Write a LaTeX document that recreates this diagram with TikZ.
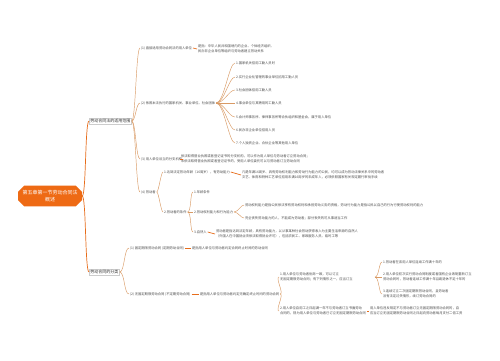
\documentclass[tikz,border=0pt]{standalone}
\usepackage{fontspec}
\setmainfont{Noto Sans CJK SC}
\usepackage{xcolor}
\definecolor{rootcol}{HTML}{EE6A14}
\definecolor{linecol}{HTML}{D99A64}
\usetikzlibrary{shapes.misc}

\begin{document}
\begin{tikzpicture}[x=1pt,y=-1pt,
  r/.style={chamfered rectangle, chamfered rectangle xsep=2.5pt, fill=rootcol, text=white, font=\fontsize{5}{6.6}\selectfont, align=center, minimum width=64pt, minimum height=19pt, inner sep=1pt},
  t/.style={draw=gray!40, fill=white, line width=0.3pt, font=\fontsize{4}{5}\selectfont, text=black!80, inner sep=1.2pt, anchor=west},
  l/.style={font=\fontsize{3.3}{4.6}\selectfont, text=black!70, inner sep=0.8pt, anchor=west, align=left},
  e/.style={draw=linecol, line width=0.45pt},
  ee/.style={draw=rootcol!85!brown, line width=0.7pt}
]
\path[use as bounding box, fill=white] (0,0) rectangle (500,360);

% ===== ROOT =====
\node[r] (root) at (50,196) {第五章第一节劳动合同法\\概述};

% ===== LEVEL 1 =====
\node[t] (L1a) at (89,121) {劳动合同法的适用范围};
\node[t] (L1b) at (89,272) {劳动合同的分类};
\draw[ee] (root.east) .. controls +(4,0) and +(-4,0) .. (L1a.west);
\draw[ee] (root.east) .. controls +(4,0) and +(-4,0) .. (L1b.west);

% ===== BRANCH A  (适用范围) =====
\node[l] (a1) at (140,48) {(1) 直接适用劳动合同法的用人单位};
\node[l] (a1c) at (197,49) {是指：中华人民共和国境内的企业、个体经济组织、\\民办非企业单位等组织与劳动者建立劳动关系};
\node[l] (a2) at (140,103) {(2) 依照本法执行的国家机关、事业单位、社会团体};
\node[l] (a3) at (140,159) {(3) 用人单位设立的分支机构};
\node[l] (a3c) at (180,159) {依法取得营业执照或者登记证书的分支机构，可以作为用人单位与劳动者订立劳动合同；\\未依法取得营业执照或者登记证书的，受用人单位委托可以与劳动者订立劳动合同};
\node[l] (a4) at (140,192) {(4) 劳动者};
\draw[e] (L1a.east) .. controls +(4,0) and +(-4,0) .. (a1.west);
\draw[e] (L1a.east) .. controls +(4,0) and +(-4,0) .. (a2.west);
\draw[e] (L1a.east) .. controls +(4,0) and +(-4,0) .. (a3.west);
\draw[e] (L1a.east) .. controls +(4,0) and +(-4,0) .. (a4.west);
\draw[ee] (a1.east) -- (a1c.west);
\draw[ee] (a3.east) -- (a3c.west);

% items of (2)
\node[l] (i1) at (235,63) {1.国家机关招用工勤人员时};
\node[l] (i2) at (235,77) {2.实行企业化管理的事业单位招用工勤人员};
\node[l] (i3) at (235,90) {3.社会团体招用工勤人员};
\node[l] (i4) at (235,103) {4.事业单位与其聘用的工勤人员};
\node[l] (i5) at (235,117) {5.会计师事务所、律师事务所等合伙组织和基金会，属于用人单位};
\node[l] (i6) at (235,130) {6.民办非企业单位招用人员};
\node[l] (i7) at (235,143) {7.个人独资企业、合伙企业等其他用人单位};
\draw[e] (a2.east) .. controls +(8,0) and +(-6,0) .. (i1.west);
\draw[e] (a2.east) .. controls +(8,0) and +(-6,0) .. (i2.west);
\draw[e] (a2.east) .. controls +(8,0) and +(-6,0) .. (i3.west);
\draw[e] (a2.east) -- (i4.west);
\draw[e] (a2.east) .. controls +(8,0) and +(-6,0) .. (i5.west);
\draw[e] (a2.east) .. controls +(8,0) and +(-6,0) .. (i6.west);
\draw[e] (a2.east) .. controls +(8,0) and +(-6,0) .. (i7.west);

% (4) 劳动者
\node[l] (a4a) at (163,172) {1.达到法定劳动年龄（16周岁），有劳动能力};
\node[l] (a4ac) at (241,175) {凡是年满16周岁、具有劳动权利能力和劳动行为能力的公民，均可以成为劳动法律关系中的劳动者\\文艺、体育和特种工艺单位招用未满16周岁的未成年人，必须依照国家有关规定履行审批手续};
\node[l] (a4b) at (163,212) {2.劳动者的条件};
\draw[e] (a4.east) .. controls +(2,0) and +(-2,0) .. (a4a.west);
\draw[e] (a4.east) .. controls +(2,0) and +(-2,0) .. (a4b.west);
\draw[ee] (a4a.east) -- (a4ac.west);

\node[l] (b1) at (193,192) {1.年龄条件};
\node[l] (b2) at (193,212) {2.劳动权利能力和行为能力};
\node[l] (b3) at (193,232) {3.自然人};
\node[l] (b3c) at (215,234) {劳动者是指达到法定年龄，具有劳动能力，以从事某种社会劳动获得收入为主要生活来源的自然人\\（外国人在中国就业须依法取得就业许可），包括农民工、家政服务人员、临时工等};
\draw[e] (a4b.east) .. controls +(4,0) and +(-3,0) .. (b1.west);
\draw[e] (a4b.east) -- (b2.west);
\draw[e] (a4b.east) .. controls +(4,0) and +(-3,0) .. (b3.west);
\draw[ee] (b3.east) -- (b3c.west);

\node[l] (c1) at (244,205) {劳动权利能力是指公民依法享有劳动权利和承担劳动义务的资格，劳动行为能力是指公民以自己的行为行使劳动权利的能力};
\node[l] (c2) at (244,218) {完全丧失劳动能力的人，不能成为劳动者；部分丧失的可从事适当工作};
\draw[e] (b2.east) .. controls +(4,0) and +(-3,0) .. (c1.west);
\draw[e] (b2.east) .. controls +(4,0) and +(-3,0) .. (c2.west);

% ===== BRANCH B  (分类) =====
\node[l] (d1) at (129,248) {(1) 固定期限劳动合同 (定期劳动合同)};
\node[l] (d1c) at (191,248) {是指用人单位与劳动者约定合同终止时间的劳动合同};
\node[l] (d2) at (129,294) {(2) 无固定期限劳动合同 (不定期劳动合同)};
\node[l] (d2c) at (199,294) {是指用人单位与劳动者约定无确定终止时间的劳动合同};
\draw[e] (L1b.east) .. controls +(5,0) and +(-5,0) .. (d1.west);
\draw[e] (L1b.east) .. controls +(5,0) and +(-5,0) .. (d2.west);
\draw[ee] (d1.east) -- (d1c.west);
\draw[ee] (d2.east) -- (d2c.west);

\node[l, text width=94pt] (e1) at (279,277) {1.用人单位与劳动者协商一致，可以订立\\无固定期限劳动合同；有下列情形之一，应当订立};
\node[l] (e2) at (279,311) {2.用人单位自用工之日起满一年不与劳动者订立书面劳动\\合同的，视为用人单位与劳动者已订立无固定期限劳动合同};
\node[l] (e2c) at (369,311) {用人单位违反规定不与劳动者订立无固定期限劳动合同的，自\\应当订立无固定期限劳动合同之日起向劳动者每月支付二倍工资};
\draw[e] (d2c.east) .. controls +(4,0) and +(-4,0) .. (e1.west);
\draw[e] (d2c.east) .. controls +(4,0) and +(-4,0) .. (e2.west);
\draw[ee] (e2.east) -- (e2c.west);

\node[l] (f1) at (382,262) {1.劳动者在该用人单位连续工作满十年的};
\node[l] (f2) at (382,277) {2.用人单位初次实行劳动合同制度或者国有企业改制重新订立\\劳动合同时，劳动者连续工作满十年且距退休不足十年的};
\node[l] (f3) at (382,294) {3.连续订立二次固定期限劳动合同，且劳动者\\没有法定过失情形，续订劳动合同的};
\draw[e] (e1.east) .. controls +(4,0) and +(-3,0) .. (f1.west);
\draw[e] (e1.east) -- (f2.west);
\draw[e] (e1.east) .. controls +(4,0) and +(-3,0) .. (f3.west);

\end{tikzpicture}
\end{document}
